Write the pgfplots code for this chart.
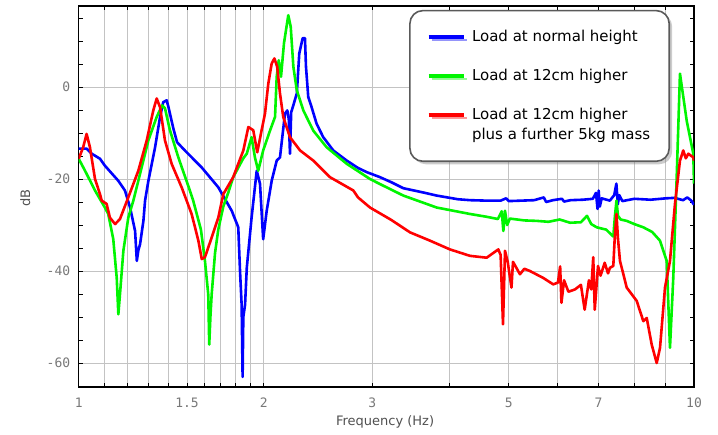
\documentclass[border=0pt]{standalone}
\usepackage{pgfplots}
\pgfplotsset{compat=1.18}
\usepackage{fontspec}
\setmainfont{DejaVu Sans}
\newfontfamily\tickfont{DejaVu Sans Mono}
\usetikzlibrary{shadows}
\definecolor{cblue}{RGB}{0,0,255}
\definecolor{cgreen}{RGB}{0,245,0}
\definecolor{cred}{RGB}{255,0,0}
\definecolor{ticklab}{RGB}{120,120,120}
\definecolor{labcol}{RGB}{80,80,80}
\definecolor{gridc}{RGB}{195,195,195}
\definecolor{legborder}{RGB}{90,90,90}
\begin{document}
\begin{tikzpicture}
\begin{axis}[
  scale only axis, width=615.3pt, height=381pt,
  xmode=log, log basis x=10,
  xmin=1, xmax=10, ymin=-65.2, ymax=17.6,
  xtick={1,1.5,2,3,5,7,10}, xticklabels={1,1.5,2,3,5,7,10},
  minor xtick={1.1,1.2,1.3,1.4,1.6,1.7,1.8,1.9,4,6,8,9},
  ytick={-60,-40,-20,0},
  minor ytick={-55,-50,-45,-35,-30,-25,-15,-10,-5,5,10,15},
  xmajorgrids, xminorgrids, ymajorgrids,
  major grid style={gridc, line width=0.9pt},
  minor grid style={gridc, line width=0.9pt},
  tick align=inside,
  major tick length=4pt, minor tick length=4pt,
  tick style={black, line width=0.8pt},
  axis line style={black, line width=1.1pt},
  /pgf/number format/assume math mode=true,
  ticklabel style={font=\tickfont\fontsize{13}{13}\selectfont, text=ticklab},
  xticklabel style={yshift=-7pt},
  yticklabel style={xshift=-5pt},
  xlabel={Frequency (Hz)},
  ylabel={dB},
  xlabel style={font=\fontsize{13}{13}\selectfont, text=labcol, at={(axis description cs:0.498,-0.091)}, anchor=center},
  ylabel style={font=\fontsize{13}{13}\selectfont, text=labcol, at={(axis description cs:-0.087,0.495)}, anchor=center},
  legend style={at={(0.961,0.990)}, anchor=north east, draw=legborder, line width=1.6pt,
    rounded corners=13pt, fill=white,
    drop shadow={opacity=0.4, shadow xshift=3pt, shadow yshift=-3pt},
    inner xsep=17pt, inner ysep=18pt, row sep=22pt,
    font=\fontsize{15}{20}\selectfont,
    cells={anchor=west, align=left}},
  legend image code/.code={\draw[#1, line width=3.6pt, line cap=butt] (0pt,0pt) -- (35pt,0pt); \path (40pt,0pt);},
  every axis plot/.append style={line width=2.6pt, line join=round},
]
\addplot[cblue] coordinates {
(1.000,-13.4) (1.030,-13.4) (1.050,-14.5) (1.083,-15.6) (1.103,-17.1) (1.160,-20.4)
(1.189,-22.5) (1.212,-26.2) (1.235,-31.3) (1.243,-37.8) (1.250,-35.5) (1.258,-34.2)
(1.274,-29.1) (1.282,-24.7) (1.298,-20.4) (1.331,-13.1) (1.356,-6.5) (1.372,-3.3)
(1.390,-2.9) (1.400,-4.5) (1.425,-9.0) (1.445,-12.0) (1.488,-13.8) (1.585,-17.5)
(1.686,-21.8) (1.773,-26.9) (1.817,-30.5) (1.829,-40.0) (1.840,-47.3) (1.847,-63.0)
(1.852,-50.0) (1.864,-47.3) (1.876,-39.3) (1.910,-28.4) (1.947,-18.2) (1.971,-21.0)
(1.995,-33.1) (2.021,-26.9) (2.059,-20.4) (2.098,-16.0) (2.124,-15.3) (2.164,-5.8)
(2.183,-5.1) (2.195,-7.0) (2.205,-14.5) (2.215,-5.5) (2.228,-4.4) (2.262,-1.4)
(2.283,7.3) (2.312,10.6) (2.332,10.6) (2.341,4.4) (2.361,-2.2) (2.391,-4.4)
(2.436,-8.0) (2.497,-10.9) (2.593,-13.8) (2.727,-16.0) (2.844,-17.6) (2.938,-18.5)
(3.088,-19.6) (3.222,-20.7) (3.370,-22.0) (3.651,-23.0) (3.818,-23.6) (4.135,-24.4)
(4.325,-24.6) (4.600,-24.7) (4.850,-24.7) (4.950,-24.2) (5.000,-24.8) (5.500,-24.6)
(5.700,-24.0) (5.750,-25.0) (5.900,-24.6) (6.100,-24.3) (6.150,-24.9) (6.300,-24.6)
(6.600,-24.5) (6.850,-24.3) (6.930,-23.0) (6.970,-26.5) (7.000,-22.5) (7.030,-26.0)
(7.080,-24.2) (7.300,-24.7) (7.420,-23.5) (7.480,-21.0) (7.520,-25.5) (7.560,-23.5)
(7.650,-24.8) (8.000,-24.3) (8.500,-24.5) (9.000,-24.2) (9.300,-24.1) (9.600,-24.6)
(9.750,-24.0) (9.900,-24.7) (10.000,-25.6)
};
\addlegendentry{Load at normal height}
\addplot[cgreen] coordinates {
(1.000,-15.6) (1.024,-18.2) (1.063,-22.5) (1.103,-26.2) (1.117,-27.6) (1.138,-33.0)
(1.153,-41.5) (1.160,-49.4) (1.167,-45.1) (1.182,-35.6) (1.204,-28.4) (1.227,-24.7)
(1.250,-20.4) (1.298,-11.6) (1.339,-6.5) (1.367,-4.0) (1.381,-4.6) (1.407,-9.4)
(1.452,-15.3) (1.507,-21.5) (1.535,-24.7) (1.580,-31.0) (1.604,-37.8) (1.624,-45.1)
(1.630,-56.0) (1.637,-50.0) (1.645,-45.0) (1.666,-36.0) (1.686,-31.0) (1.718,-26.0)
(1.750,-23.0) (1.783,-19.6) (1.852,-15.5) (1.876,-14.5) (1.910,-10.9) (1.934,-15.3)
(1.958,-18.2) (1.995,-13.8) (2.046,-9.5) (2.085,-6.5) (2.098,2.2) (2.114,5.8)
(2.132,2.2) (2.156,9.5) (2.191,15.6) (2.211,13.1) (2.233,4.4) (2.262,-0.7)
(2.318,-5.1) (2.406,-9.5) (2.529,-13.1) (2.727,-16.7) (2.975,-20.0) (3.088,-21.1)
(3.370,-23.6) (3.818,-26.2) (4.325,-27.6) (4.600,-28.2) (4.800,-28.7) (4.870,-27.0)
(4.900,-31.3) (4.930,-26.9) (4.970,-30.0) (5.020,-28.6) (5.300,-29.0) (5.551,-29.1)
(5.800,-29.3) (6.050,-28.8) (6.287,-29.5) (6.550,-29.4) (6.700,-28.0) (6.809,-29.8)
(6.950,-30.5) (7.200,-31.0) (7.394,-32.5) (7.440,-28.0) (7.483,-24.7) (7.525,-28.0)
(7.600,-28.8) (7.775,-29.1) (8.000,-29.8) (8.273,-30.5) (8.550,-31.5) (8.806,-33.4)
(9.030,-37.8) (9.141,-56.7) (9.254,-41.5) (9.373,-19.6) (9.489,2.9) (9.730,-7.3)
(9.974,-14.5) (10.000,-21.0)
};
\addlegendentry{Load at 12cm higher}
\addplot[cred, legend image code/.code={\draw[cred, line width=3.6pt, line cap=butt] (0pt,10pt) -- (35pt,10pt); \path (40pt,10pt);}] coordinates {
(1.000,-15.6) (1.017,-13.1) (1.030,-10.2) (1.043,-13.1) (1.063,-20.0) (1.083,-23.3)
(1.090,-24.7) (1.110,-25.4) (1.124,-28.4) (1.146,-29.8) (1.167,-28.7) (1.204,-24.0)
(1.250,-18.2) (1.290,-11.6) (1.322,-5.1) (1.339,-2.5) (1.356,-4.4) (1.381,-11.6)
(1.416,-16.7) (1.470,-21.8) (1.526,-27.6) (1.565,-33.4) (1.585,-37.4) (1.604,-37.0)
(1.645,-32.7) (1.686,-28.4) (1.718,-23.3) (1.783,-19.6) (1.852,-13.8) (1.887,-8.7)
(1.922,-9.4) (1.951,-14.2) (1.983,-9.4) (2.008,-5.8) (2.033,0.7) (2.059,5.1)
(2.080,6.2) (2.102,4.4) (2.124,-1.4) (2.150,-6.5) (2.205,-10.9) (2.290,-13.8)
(2.406,-16.0) (2.561,-19.6) (2.795,-22.5) (2.844,-24.0) (2.975,-26.2) (3.222,-28.9)
(3.456,-31.6) (3.724,-33.4) (4.012,-35.3) (4.325,-36.7) (4.603,-37.1) (4.808,-35.3)
(4.850,-36.5) (4.893,-51.6) (4.930,-35.6) (4.980,-38.0) (5.051,-43.6) (5.080,-38.0)
(5.214,-40.7) (5.300,-39.5) (5.413,-40.0) (5.689,-41.5) (5.906,-42.9) (6.011,-42.5)
(6.060,-39.0) (6.090,-46.9) (6.150,-42.0) (6.250,-44.5) (6.406,-44.0) (6.550,-43.0)
(6.643,-48.4) (6.750,-42.0) (6.809,-44.0) (6.860,-37.0) (6.898,-48.4) (6.983,-38.9)
(7.050,-41.0) (7.160,-38.2) (7.250,-40.5) (7.300,-39.3) (7.394,-38.9) (7.430,-33.4)
(7.483,-27.6) (7.525,-33.0) (7.582,-37.8) (7.775,-43.6) (8.071,-46.5) (8.273,-50.9)
(8.379,-50.2) (8.537,-56.0) (8.698,-60.0) (8.806,-56.7) (8.972,-43.6) (9.141,-37.8)
(9.313,-25.4) (9.489,-16.0) (9.607,-13.8) (9.700,-15.5) (9.789,-14.5) (9.974,-15.3)
(10.000,-16.0)
};
\addlegendentry{Load at 12cm higher\\plus a further 5kg mass}
\end{axis}
\path ([xshift=-78.7pt,yshift=-48pt]current axis.south west) rectangle ([xshift=24pt,yshift=6pt]current axis.north east);
\end{tikzpicture}
\end{document}
